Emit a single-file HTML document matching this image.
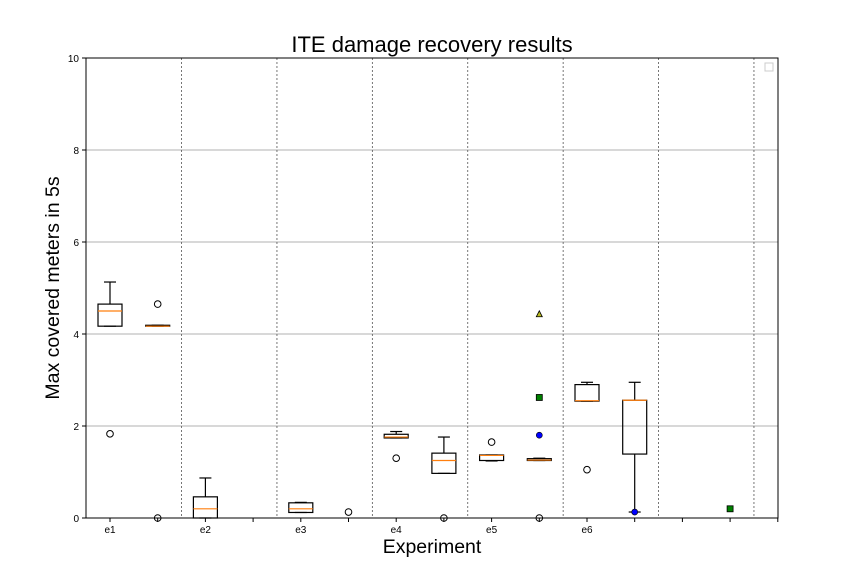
<!DOCTYPE html>
<html><head><meta charset="utf-8"><style>
body{margin:0;background:#fff}
svg{font-family:"Liberation Sans","DejaVu Sans",sans-serif}
</style></head><body>
<svg id="c" width="864" height="576" xmlns="http://www.w3.org/2000/svg">
<rect width="864" height="576" fill="#fff"/>
<text x="432" y="52" font-size="22" text-anchor="middle">ITE damage recovery results</text>
<text x="432" y="553" font-size="19.5" text-anchor="middle">Experiment</text>
<text transform="translate(59,288) rotate(-90)" font-size="19.5" text-anchor="middle">Max covered meters in 5s</text>
<g id="g"></g>
<rect x="765" y="63" width="8" height="8" fill="#fff" stroke="#ccc"/>
</svg>
<script>
const xTickLabels=["e1","","e2","","e3","","e4","","e5","","e6","","","",""];
const yTicks=[0,2,4,6,8,10];
// boxes: [position, whiskerLow, q1, median, q3, whiskerHigh]
const boxPos=[1,2,3,5,7,8,9,10,11,12];
const wLow=[4.17,4.17,0,0.12,1.74,0.97,1.24,1.25,2.54,0.13];
const q1s=[4.17,4.17,0,0.12,1.74,0.97,1.25,1.25,2.54,1.39];
const meds=[4.50,4.17,0.20,0.20,1.76,1.25,1.36,1.26,2.55,2.56];
const q3s=[4.65,4.19,0.46,0.33,1.82,1.41,1.37,1.29,2.90,2.56];
const wHigh=[5.13,4.19,0.87,0.34,1.88,1.76,1.37,1.30,2.95,2.95];
const outX=[1,2,2,6,7,8,9,10,11];
const outY=[1.83,4.65,0,0.13,1.30,0,1.65,0,1.05];
const triX=[10],triY=[4.44];
const sqX=[10,14],sqY=[2.62,0.2];
const dotX=[10,12],dotY=[1.80,0.13];
const L=86,R=778,T=58,B=518;
const X=v=>110+(v-1)*47.7;
const Y=v=>B-(v/10)*(B-T);
const g=document.getElementById('g');
const NS='http://www.w3.org/2000/svg';
function mk(t,a){const e=document.createElementNS(NS,t);for(const k in a)e.setAttribute(k,a[k]);g.appendChild(e);return e;}
yTicks.forEach(v=>{
 if(v>0&&v<10){const e=mk('line',{x1:L,x2:R,y1:Y(v),y2:Y(v),stroke:'#b0b0b0','stroke-width':1});
 
 }
 const t=mk('line',{x1:L-4,x2:L,y1:Y(v),y2:Y(v),stroke:'#000'});
 
 
 const l=mk('text',{x:L-7,y:Y(v)+4,'font-size':10,'text-anchor':'end'});l.textContent=v;
 
 
});
for(let i=0;i<7;i++){const e=mk('line',{x1:X(2.5+2*i),x2:X(2.5+2*i),y1:T,y2:B,stroke:'#555','stroke-dasharray':'2,2','stroke-width':0.8});
 
 }
xTickLabels.forEach((s,i)=>{const x=X(i+1);
 const t=mk('line',{x1:x,x2:x,y1:B,y2:B+4,stroke:'#000'});
 
 
 if(s){const l=mk('text',{x:x,y:B+15,'font-size':10,'text-anchor':'middle'});l.textContent=s;
 
 }
});
boxPos.forEach((p,i)=>{const x=X(p),w=12;
 const a={stroke:'#000','stroke-width':1.2,fill:'none'};
 const bx=mk('rect',Object.assign({x:x-w,y:Y(q3s[i]),width:2*w,height:Math.max(0.5,Y(q1s[i])-Y(q3s[i]))},a));
 
 
 mk('line',Object.assign({x1:x,x2:x,y1:Y(q3s[i]),y2:Y(wHigh[i])},a));
 mk('line',Object.assign({x1:x-6,x2:x+6,y1:Y(wHigh[i]),y2:Y(wHigh[i])},a));
 mk('line',Object.assign({x1:x,x2:x,y1:Y(q1s[i]),y2:Y(wLow[i])},a));
 mk('line',Object.assign({x1:x-6,x2:x+6,y1:Y(wLow[i]),y2:Y(wLow[i])},a));
 const m=mk('line',{x1:x-w,x2:x+w,y1:Y(meds[i]),y2:Y(meds[i]),stroke:'#ff7f0e','stroke-width':1.2});
 
 
});
outX.forEach((p,i)=>{const e=mk('circle',{cx:X(p),cy:Y(outY[i]),r:3.3,fill:'none',stroke:'#000','stroke-width':1});
 
 });
triX.forEach((p,i)=>{const x=X(p),y=Y(triY[i]);const e=mk('polygon',{points:`${x-3},${y+3} ${x+3},${y+3} ${x},${y-3}`,fill:'#bcbd22',stroke:'#000','stroke-width':0.8});
 
 });
sqX.forEach((p,i)=>{const e=mk('rect',{x:X(p)-3,y:Y(sqY[i])-3,width:6,height:6,fill:'green',stroke:'#000','stroke-width':0.8});
 
 });
dotX.forEach((p,i)=>{const e=mk('circle',{cx:X(p),cy:Y(dotY[i]),r:3,fill:'#0000ff',stroke:'#000','stroke-width':0.6});
 
 });
const f=mk('rect',{x:L,y:T,width:R-L,height:B-T,fill:'none',stroke:'#000','stroke-width':1});


</script>
</body></html>
